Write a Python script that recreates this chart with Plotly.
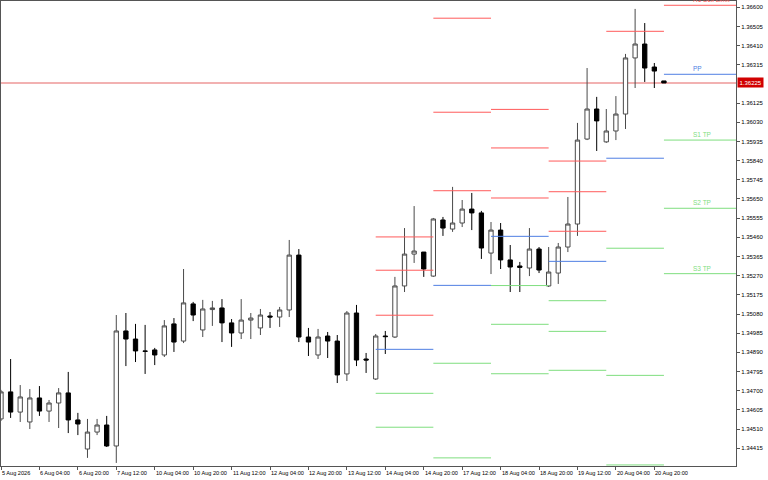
import pandas as pd
import plotly.graph_objects as go

# ---- 4H candles (EURUSD-like) ----
opens = [1.34560, 1.34694, 1.34594, 1.34545, 1.34664, 1.34599, 1.34639, 1.34689, 1.34555, 1.34411,
         1.34495, 1.34530, 1.34426, 1.34996, 1.34956, 1.34897, 1.34902, 1.34877, 1.35031, 1.34946,
         1.35130, 1.35001, 1.35102, 1.35110, 1.35036, 1.34986, 1.35050, 1.35011, 1.35070, 1.35065,
         1.35100, 1.35372, 1.34966, 1.34877, 1.34971, 1.34946, 1.34783, 1.35085, 1.34857, 1.34758,
         1.34971, 1.34966, 1.35219, 1.35377, 1.35387, 1.35268, 1.35546, 1.35501, 1.35531, 1.35600,
         1.35581, 1.35382, 1.35496, 1.35348, 1.35318, 1.35308, 1.35402, 1.35219, 1.35283, 1.35412,
         1.35526, 1.35947, 1.36096, 1.35933, 1.35987, 1.36071, 1.36349, 1.36418, 1.36304, 1.36235]
highs = [1.34704, 1.34857, 1.34728, 1.34708, 1.34723, 1.34654, 1.34713, 1.34793, 1.34590, 1.34560,
         1.34560, 1.34575, 1.35075, 1.35085, 1.35031, 1.35026, 1.34912, 1.35050, 1.35060, 1.35303,
         1.35140, 1.35150, 1.35145, 1.35154, 1.35055, 1.35154, 1.35085, 1.35105, 1.35090, 1.35115,
         1.35447, 1.35402, 1.35011, 1.35006, 1.34991, 1.34976, 1.35095, 1.35125, 1.34887, 1.34981,
         1.34996, 1.35264, 1.35506, 1.35615, 1.35387, 1.35556, 1.35561, 1.35710, 1.35645, 1.35680,
         1.35591, 1.35536, 1.35531, 1.35422, 1.35338, 1.35506, 1.35412, 1.35412, 1.35432, 1.35660,
         1.36027, 1.36299, 1.36156, 1.36096, 1.36160, 1.36369, 1.36592, 1.36522, 1.36324, 1.36235]
lows = [1.34550, 1.34565, 1.34545, 1.34510, 1.34575, 1.34545, 1.34515, 1.34490, 1.34480, 1.34367,
        1.34480, 1.34421, 1.34342, 1.34822, 1.34842, 1.34783, 1.34827, 1.34867, 1.34892, 1.34936,
        1.35045, 1.34966, 1.35021, 1.34941, 1.34917, 1.34956, 1.34956, 1.34976, 1.35011, 1.35016,
        1.35065, 1.34941, 1.34872, 1.34857, 1.34862, 1.34738, 1.34748, 1.34822, 1.34788, 1.34753,
        1.34882, 1.34961, 1.35189, 1.35333, 1.35264, 1.35264, 1.35467, 1.35487, 1.35511, 1.35496,
        1.35353, 1.35278, 1.35303, 1.35189, 1.35189, 1.35268, 1.35283, 1.35214, 1.35229, 1.35387,
        1.35467, 1.35942, 1.35888, 1.35928, 1.35942, 1.35997, 1.36200, 1.36230, 1.36200, 1.36225]
closes = [1.34694, 1.34594, 1.34669, 1.34664, 1.34599, 1.34639, 1.34689, 1.34555, 1.34535, 1.34495,
          1.34530, 1.34426, 1.34996, 1.34956, 1.34897, 1.34895, 1.34877, 1.35021, 1.34941, 1.35135,
          1.35075, 1.35105, 1.35110, 1.35036, 1.34986, 1.35050, 1.35060, 1.35075, 1.35065, 1.35100,
          1.35372, 1.34966, 1.34941, 1.34966, 1.34946, 1.34778, 1.35085, 1.34852, 1.34852, 1.34971,
          1.34968, 1.35219, 1.35377, 1.35392, 1.35303, 1.35551, 1.35506, 1.35531, 1.35600, 1.35581,
          1.35407, 1.35496, 1.35348, 1.35313, 1.35311, 1.35402, 1.35298, 1.35288, 1.35412, 1.35526,
          1.35942, 1.36096, 1.36037, 1.35987, 1.36071, 1.36349, 1.36418, 1.36299, 1.36284, 1.36225]

# ---- daily pivot levels (per day) ----
pivot_days = ["2026-08-14", "2026-08-17", "2026-08-18", "2026-08-19", "2026-08-20", "2026-08-21"]
R3 = [1.35462, 1.36546, 1.36094, 1.35838, None, None]
R2 = [1.35297, 1.36080, 1.35903, 1.35686, None, None]
R1 = [1.35074, 1.35691, 1.35655, 1.35490, 1.36481, 1.36610]
PP = [1.34905, 1.35222, 1.35465, 1.35341, 1.35852, 1.36268]
S1 = [1.34687, 1.34836, 1.35221, 1.35146, 1.35406, 1.35942]
S2 = [1.34519, 1.34367, 1.35029, 1.34994, 1.34776, 1.35604]
S3 = [None, None, 1.34784, 1.34801, 1.34332, 1.35280]

level_labels = {"R1": "R1 Sell Limit", "PP": "PP", "S1": "S1 TP", "S2": "S2 TP", "S3": "S3 TP"}

# ---- axis tick labels ----
x_tick_labels = ["5 Aug 2026", "6 Aug 04:00", "6 Aug 20:00", "7 Aug 12:00", "10 Aug 04:00",
                 "10 Aug 20:00", "11 Aug 12:00", "12 Aug 04:00", "12 Aug 20:00", "13 Aug 12:00",
                 "14 Aug 04:00", "14 Aug 20:00", "17 Aug 12:00", "18 Aug 04:00", "18 Aug 20:00",
                 "19 Aug 12:00", "20 Aug 04:00", "20 Aug 20:00"]
# (1.36220 is hidden behind the current-price box in the reference)
y_tick_values = [1.34415, 1.34510, 1.34605, 1.34700, 1.34795, 1.34890, 1.34985, 1.35080,
                 1.35175, 1.35270, 1.35365, 1.35460, 1.35555, 1.35650, 1.35745, 1.35840,
                 1.35935, 1.36030, 1.36125, 1.36315, 1.36410, 1.36505, 1.36600]

N = len(opens)
# bar open times: 4-hour bars, weekends skipped
t = pd.Timestamp("2026-08-05 12:00")
bar_times = []
while len(bar_times) < N:
    if t.weekday() < 5:
        bar_times.append(t)
    t += pd.Timedelta(hours=4)
xs = list(range(N))
x_tick_idx = [i for i, bt in enumerate(bar_times)
              if (bt.strftime("%-d %b %H:%M") in x_tick_labels) or (i == 0)]

X_MAX = 76.5
Y_MIN, Y_MAX = 1.343268, 1.366312

RED, BLUE, GREEN = "#ff5a5a", "#4f7fe3", "#7fde7f"
FONT = "Liberation Sans, Arial, sans-serif"

fig = go.Figure()
fig.add_trace(go.Candlestick(
    x=xs, open=opens, high=highs, low=lows, close=closes,
    increasing=dict(fillcolor="white", line=dict(color="#4a4a4a", width=1)),
    decreasing=dict(fillcolor="black", line=dict(color="#000000", width=1)),
    whiskerwidth=0, hoverinfo="skip", showlegend=False))

day_start = {}
for d in pivot_days:
    day_start[d] = next(i for i, bt in enumerate(bar_times) if bt.strftime("%Y-%m-%d") == d)

levels = [("R3", R3, RED), ("R2", R2, RED), ("R1", R1, RED), ("PP", PP, BLUE),
          ("S1", S1, GREEN), ("S2", S2, GREEN), ("S3", S3, GREEN)]
annotations = []
for name, vals, color in levels:
    sx, sy = [], []
    for k, d in enumerate(pivot_days):
        v = vals[k]
        if v is None:
            continue
        x0 = day_start[d]
        x1 = day_start[pivot_days[k + 1]] if k + 1 < len(pivot_days) else X_MAX
        sx += [x0, x1, None]
        sy += [v, v, None]
    fig.add_trace(go.Scatter(x=sx, y=sy, mode="lines", line=dict(color=color, width=1),
                             hoverinfo="skip", showlegend=False))
    last = vals[-1]
    if last is not None and name in level_labels:
        annotations.append(dict(x=day_start[pivot_days[-1]] + 3, y=last, xref="x", yref="y",
                                text=level_labels[name], showarrow=False, xanchor="left",
                                yanchor="bottom", xshift=-2, font=dict(color=color, size=6.5)))

# x tick labels (left aligned at tick, MT4 style)
for i, lab in zip(x_tick_idx, x_tick_labels):
    annotations.append(dict(x=i, y=0, xref="x", yref="paper", text=lab, showarrow=False,
                            xanchor="left", yanchor="top", xshift=-1, yshift=-2,
                            font=dict(size=5.6, color="black")))

# current price label
annotations.append(dict(x=1, y=closes[-1], xref="paper", yref="y", text=f"{closes[-1]:.5f}",
                        showarrow=False, xanchor="left", yanchor="middle", xshift=1,
                        bgcolor="#d10000", borderpad=1.5, font=dict(size=6, color="white")))

fig.update_layout(
    width=768, height=480,
    margin=dict(l=1, r=32, t=1, b=14),
    paper_bgcolor="white", plot_bgcolor="white",
    boxgap=0.36, showlegend=False,
    font=dict(family=FONT, size=6, color="black"),
    xaxis=dict(range=[0, X_MAX], showgrid=False, zeroline=False,
               rangeslider=dict(visible=False), showline=True, linecolor="#555555",
               linewidth=1, mirror=True, ticks="outside", ticklen=3, tickcolor="#555555",
               tickvals=x_tick_idx, showticklabels=False),
    yaxis=dict(range=[Y_MIN, Y_MAX], side="right", showgrid=False, zeroline=False,
               showline=True, linecolor="#555555", linewidth=1, mirror=True,
               ticks="outside", ticklen=3, tickcolor="#555555",
               tickvals=y_tick_values, ticktext=[f"{v:.5f}" for v in y_tick_values],
               tickfont=dict(size=6, color="black")),
    shapes=[dict(type="line", xref="paper", yref="y", x0=0, x1=1,
                 y0=closes[-1], y1=closes[-1],
                 line=dict(color="rgba(225,80,80,0.6)", width=1.5), layer="below")],
    annotations=annotations,
)

fig.write_html("out.html", config={"displayModeBar": False},
               post_script="document.body.style.margin='0';document.body.style.overflow='hidden';")
